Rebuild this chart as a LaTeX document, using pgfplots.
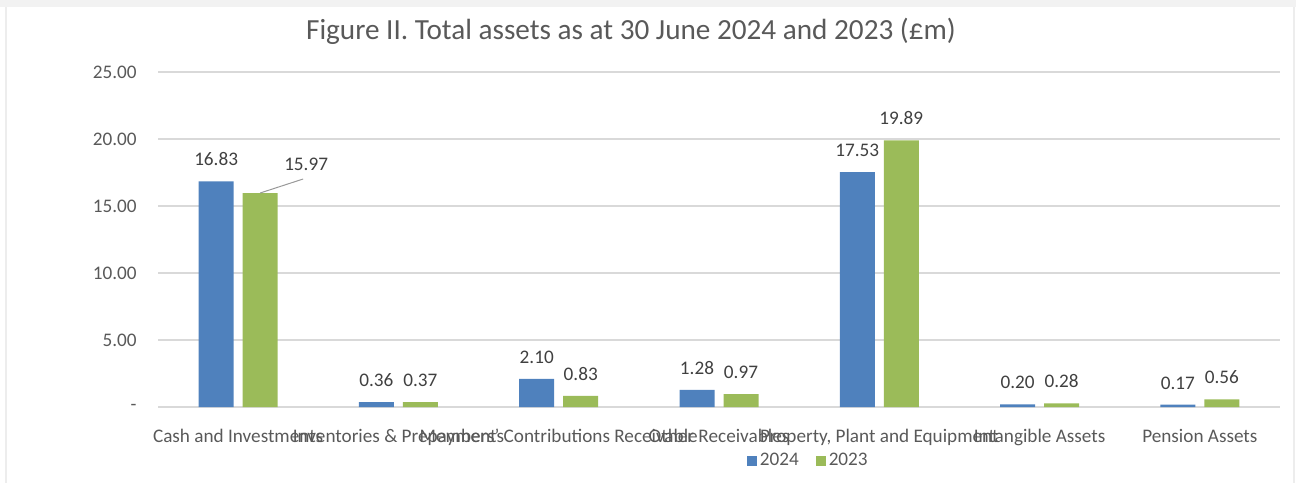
\documentclass[border=0pt]{standalone}
\usepackage{fontspec}
\setmainfont{Carlito}
\usepackage{pgfplots}
\pgfplotsset{compat=1.18}

\definecolor{blue24}{HTML}{4F81BD}
\definecolor{green23}{HTML}{9BBB59}
\definecolor{txtgray}{HTML}{595959}
\definecolor{lblgray}{HTML}{404040}
\definecolor{gridgray}{HTML}{D9D9D9}

\begin{document}
\begin{tikzpicture}
% page frame, 1px = 0.5pt
\useasboundingbox (0pt,0pt) rectangle (648pt,241.5pt);
\fill[black!5] (0pt,238pt) rectangle (648pt,241.5pt);
\draw[black!7,line width=1pt] (3pt,0pt) -- (3pt,238pt);
\draw[black!7,line width=1pt] (647pt,0pt) -- (647pt,238pt);

\node[text=txtgray,font=\fontsize{14.6}{17}\selectfont] at (315.5pt,226pt)
  {Figure II. Total assets as at 30 June 2024 and 2023 (£m)};

\begin{axis}[
    at={(79pt,38pt)}, anchor=south west,
    scale only axis,
    width=561pt, height=167.5pt,
    xmin=-0.5, xmax=6.5,
    ymin=0, ymax=25,
    ytick={0,5,10,15,20,25},
    yticklabels={-,5.00,10.00,15.00,20.00,25.00},
    xtick={0,1,2,3,4,5,6},
    xticklabels={Cash and Investments,Inventories \& Prepayments,Members' Contributions Receivable,Other Receivables,{Property, Plant and Equipment},Intangible Assets,Pension Assets},
    axis line style={draw=none},
    tick style={draw=none},
    ymajorgrids,
    grid style={gridgray, line width=0.6pt},
    ticklabel style={text=txtgray, font=\fontsize{9.6}{11}\selectfont},
    yticklabel style={anchor=east, inner sep=0pt, xshift=-10.5pt},
    xticklabel style={anchor=base, inner sep=0pt, yshift=-13.5pt},
    ybar,
    bar width=17.5pt,
    point meta=explicit symbolic,
    nodes near coords,
    every node near coord/.append style={anchor=south, inner sep=0pt, yshift=7.5pt,
        text=lblgray, font=\fontsize{9.6}{11}\selectfont},
    legend style={at={(0.58,-0.161)}, anchor=center, draw=none, fill=none,
        legend columns=2, inner sep=0pt,
        font=\fontsize{9.6}{11}\selectfont, text=txtgray,
        nodes={inner xsep=1.5pt},
        /tikz/every even column/.append style={column sep=7pt}},
    legend image code/.code={\fill[#1] (0pt,-2.5pt) rectangle (5pt,2.5pt);},
]
\addplot[fill=blue24, draw=none, bar shift=-11pt] coordinates {
    (0,16.83) [16.83] (1,0.36) [0.36] (2,2.10) [2.10] (3,1.28) [1.28]
    (4,17.53) [17.53] (5,0.20) [0.20] (6,0.17) [0.17]
};
\addlegendentry{2024}
\addplot[fill=green23, draw=none, bar shift=11pt] coordinates {
    (0,15.97) [{}] (1,0.37) [0.37] (2,0.83) [0.83] (3,0.97) [0.97]
    (4,19.89) [19.89] (5,0.28) [0.28] (6,0.56) [0.56]
};
\addlegendentry{2023}
% displaced label for 15.97 with its leader line
\draw[black!40, line width=0.5pt] ([xshift=11pt]axis cs:0,15.97) -- ([xshift=32.5pt,yshift=7pt]axis cs:0,15.97);
\node[text=lblgray, font=\fontsize{9.6}{11}\selectfont] at ([xshift=34pt,yshift=14.5pt]axis cs:0,15.97) {15.97};
\end{axis}
\end{tikzpicture}
\end{document}
